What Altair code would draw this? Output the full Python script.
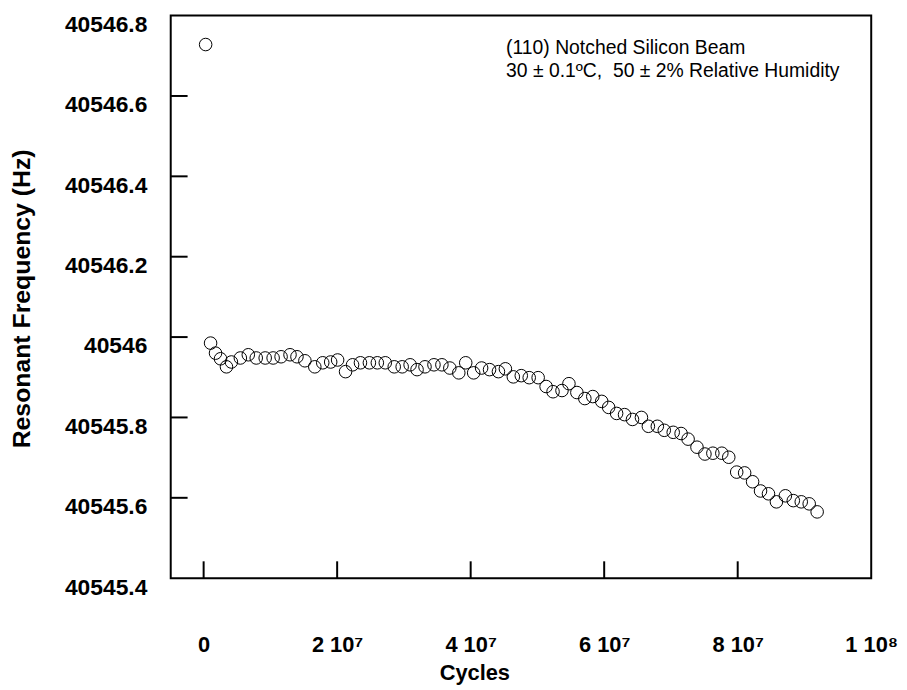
import altair as alt
import pandas as pd

# ---- data ----
cycles = [0.3e6, 1.04e6, 1.78e6, 2.53e6, 3.42e6, 4.16e6, 5.50e6, 6.69e6, 7.88e6, 9.22e6,
          10.41e6, 11.60e6, 12.94e6, 13.98e6, 15.17e6, 16.65e6, 17.84e6, 19.03e6, 20.07e6, 21.26e6,
          22.31e6, 23.49e6, 24.83e6, 26.02e6, 27.21e6, 28.55e6, 29.74e6, 30.93e6, 31.97e6, 33.16e6,
          34.50e6, 35.69e6, 36.88e6, 38.22e6, 39.26e6, 40.45e6, 41.64e6, 42.83e6, 44.16e6, 45.20e6,
          46.39e6, 47.58e6, 48.77e6, 50.11e6, 51.30e6, 52.34e6, 53.68e6, 54.72e6, 55.91e6, 57.10e6,
          58.29e6, 59.63e6, 60.67e6, 61.86e6, 63.05e6, 64.24e6, 65.58e6, 66.62e6, 67.96e6, 69.00e6,
          70.34e6, 71.52e6, 72.57e6, 73.90e6, 75.09e6, 76.28e6, 77.62e6, 78.66e6, 79.85e6, 81.04e6,
          82.23e6, 83.42e6, 84.61e6, 85.80e6, 87.14e6, 88.33e6, 89.52e6, 90.71e6, 91.90e6]
freq = [40546.728, 40545.985, 40545.960, 40545.946, 40545.926, 40545.938, 40545.948, 40545.956, 40545.948, 40545.948,
        40545.948, 40545.951, 40545.956, 40545.951, 40545.941, 40545.926, 40545.936, 40545.938, 40545.943, 40545.914,
        40545.931, 40545.936, 40545.936, 40545.936, 40545.936, 40545.926, 40545.926, 40545.931, 40545.919, 40545.926,
        40545.931, 40545.931, 40545.923, 40545.911, 40545.936, 40545.911, 40545.923, 40545.919, 40545.914, 40545.921,
        40545.901, 40545.904, 40545.899, 40545.899, 40545.877, 40545.864, 40545.867, 40545.884, 40545.862, 40545.847,
        40545.852, 40545.840, 40545.825, 40545.810, 40545.807, 40545.795, 40545.800, 40545.778, 40545.778, 40545.768,
        40545.763, 40545.760, 40545.746, 40545.726, 40545.709, 40545.711, 40545.711, 40545.701, 40545.664, 40545.662,
        40545.640, 40545.617, 40545.610, 40545.590, 40545.605, 40545.593, 40545.590, 40545.585, 40545.565]

x_ticks = [0, 2e7, 4e7, 6e7, 8e7, 1e8]
x_tick_labels = ["0", "2 10\u2077", "4 10\u2077", "6 10\u2077", "8 10\u2077", "1 10\u2078"]
y_ticks = [40545.4, 40545.6, 40545.8, 40546.0, 40546.2, 40546.4, 40546.6, 40546.8]
annotation = ["(110) Notched Silicon Beam", "30 \u00b1 0.1\u00baC,\u00a0 50 \u00b1 2% Relative Humidity"]

x_domain = [-4.93e6, 1.0e8]
y_domain = [40545.4, 40546.8]

df = pd.DataFrame({"cycles": cycles, "freq": freq})
df_xt = pd.DataFrame({"v": x_ticks[:-1]})
df_yt = pd.DataFrame({"v": y_ticks[1:-1]})

FONT = "Liberation Sans"

label_expr = ""
for v, lab in zip(x_ticks, x_tick_labels):
    label_expr += f"datum.value == {v} ? '{lab}' : "
label_expr += "''"

xscale = alt.Scale(domain=x_domain, nice=False, zero=False)
yscale = alt.Scale(domain=y_domain, nice=False, zero=False)

W, H = 706, 567

points = alt.Chart(df).mark_point(
    shape="circle", filled=False, color="black", strokeWidth=1, size=160, opacity=1
).encode(
    x=alt.X("cycles:Q", scale=xscale,
            axis=alt.Axis(values=x_ticks, labelExpr=label_expr, title="Cycles",
                          grid=False, ticks=False, domain=False,
                          labelFont=FONT, labelFontSize=22, labelFontWeight="bold",
                          labelColor="black", labelPadding=57, labelFlush=False,
                          labelOverlap=False,
                          titleFont=FONT, titleFontSize=22, titleFontWeight="bold",
                          titleColor="black", titleX=306, titleY=102,
                          titleBaseline="alphabetic")),
    y=alt.Y("freq:Q", scale=yscale,
            axis=alt.Axis(values=y_ticks, format=".1~f", title="Resonant Frequency (Hz)",
                          grid=False, ticks=False, domain=False,
                          labelFont=FONT, labelFontSize=23, labelFontWeight="bold",
                          labelColor="black", labelPadding=24, labelOffset=9,
                          labelFlush=False, labelOverlap=False,
                          titleFont=FONT, titleFontSize=25, titleFontWeight="bold",
                          titleColor="black", titleAngle=270, titleX=-150, titleY=285,
                          titleAlign="center", titleBaseline="middle")),
)

ytick_rules = alt.Chart(df_yt).mark_rule(color="black", strokeWidth=2).encode(
    y=alt.Y("v:Q", scale=yscale),
    x=alt.value(0), x2=alt.value(17),
)
xtick_rules = alt.Chart(df_xt).mark_rule(color="black", strokeWidth=2).encode(
    x=alt.X("v:Q", scale=xscale),
    y=alt.value(H), y2=alt.value(H - 17),
)

ann_layers = []
for i, line in enumerate(annotation):
    ann_layers.append(
        alt.Chart(pd.DataFrame({"t": [line]})).mark_text(
            align="left", baseline="alphabetic", font=FONT, fontSize=19.5, color="black"
        ).encode(text="t:N", x=alt.value(338), y=alt.value(39 + 23 * i))
    )

chart = alt.layer(points, ytick_rules, xtick_rules, *ann_layers).properties(
    width=W, height=H,
    background="white",
    autosize=alt.AutoSizeParams(type="none"),
    padding={"left": 164, "top": 5, "right": 28, "bottom": 106},
).configure_view(
    stroke="black", strokeWidth=2, strokeOpacity=1
)

chart.save("out.html", embed_options={"renderer": "svg", "actions": False})
